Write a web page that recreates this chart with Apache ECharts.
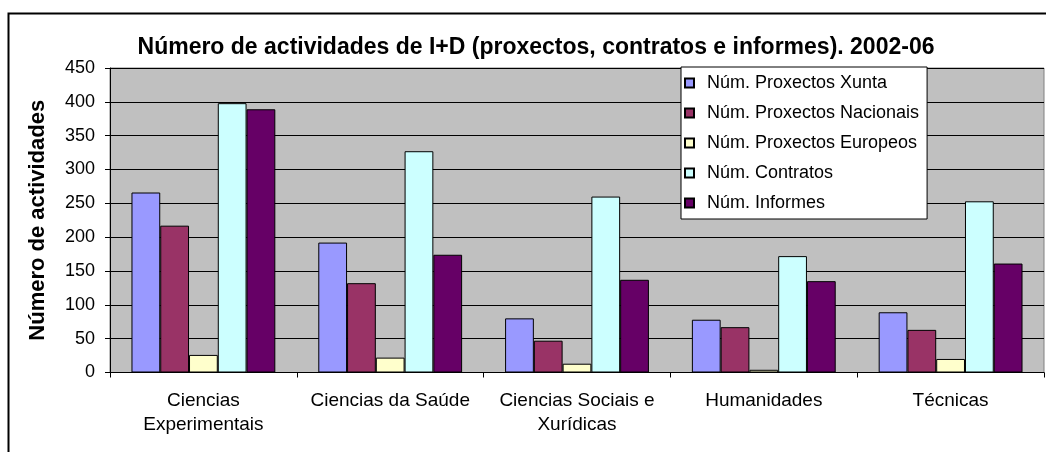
<!DOCTYPE html>
<html>
<head>
<meta charset="utf-8">
<script src="https://cdn.jsdelivr.net/npm/echarts@6/dist/echarts.min.js"></script>
<style>
  html, body { margin: 0; padding: 0; background: #fff; }
  #chart { width: 1046px; height: 452px; }
</style>
</head>
<body>
<div id="chart"></div>
<script>
var categorias = ['Ciencias\nExperimentais', 'Ciencias da Saúde', 'Ciencias Sociais e\nXurídicas', 'Humanidades', 'Técnicas'];
var xunta = [266, 192, 80, 78, 89];
var nacionais = [217, 132, 47, 67, 63];
var europeos = [26, 22, 13, 4, 20];
var contratos = [398, 327, 260, 172, 253];
var informes = [389, 174, 137, 135, 161];
var ticksY = [0, 450, 50]; // min, max, intervalo

var fonte = '"Liberation Sans", Arial, sans-serif';

var myChart = echarts.init(document.getElementById('chart'));

function serie(nome, datos, cor) {
    return {
        name: nome,
        type: 'bar',
        data: datos,
        barGap: '0%',
        barCategoryGap: '23%',
        itemStyle: { color: cor, borderColor: '#000', borderWidth: 1 },
        emphasis: { disabled: true }
    };
}

var option = {
    animation: false,
    textStyle: { fontFamily: fonte },
    title: {
        text: 'Número de actividades de I+D (proxectos, contratos e informes). 2002-06',
        left: 531,
        textAlign: 'center',
        top: 31,
        textStyle: { fontFamily: fonte, fontWeight: 'bold', fontSize: 23, color: '#000' }
    },
    legend: {
        orient: 'vertical',
        left: 681,
        top: 67,
        backgroundColor: '#fff',
        borderColor: '#000',
        borderWidth: 1,
        borderRadius: 0,
        padding: [6, 8, 6, 3],
        itemWidth: 9,
        itemHeight: 9,
        itemGap: 10,
        icon: 'rect',
        textStyle: { fontFamily: fonte, fontSize: 18, color: '#000', lineHeight: 20, padding: [0, 0, 0, 8] }
    },
    grid: {
        left: 110,
        right: 2,
        top: 68,
        bottom: 79.5,
        show: true,
        backgroundColor: '#C0C0C0',
        borderColor: '#808080',
        borderWidth: 1
    },
    xAxis: {
        type: 'category',
        data: categorias,
        axisLine: { lineStyle: { color: '#000', width: 1 } },
        axisTick: { show: true, length: 5, lineStyle: { color: '#000' } },
        axisLabel: { interval: 0, color: '#000', fontSize: 19, lineHeight: 24, margin: 16, fontFamily: fonte }
    },
    yAxis: {
        type: 'value',
        min: ticksY[0],
        max: ticksY[1],
        interval: ticksY[2],
        name: 'Número de actividades',
        nameLocation: 'middle',
        nameGap: 61,
        nameTextStyle: { fontFamily: fonte, fontWeight: 'bold', fontSize: 22, color: '#000' },
        axisLine: { show: true, lineStyle: { color: '#000', width: 1 } },
        axisTick: { show: true, length: 5, lineStyle: { color: '#000' } },
        axisLabel: { color: '#000', fontSize: 18, margin: 15, fontFamily: fonte },
        splitLine: { lineStyle: { color: '#000', width: 1 } }
    },
    graphic: [{
        type: 'rect',
        shape: { x: 8.5, y: 13.5, width: 1100, height: 500 },
        style: { fill: 'none', stroke: '#000', lineWidth: 2 },
        z: 100
    }],
    series: [
        serie('Núm. Proxectos Xunta', xunta, '#9999FF'),
        serie('Núm. Proxectos Nacionais', nacionais, '#993366'),
        serie('Núm. Proxectos Europeos', europeos, '#FFFFCC'),
        serie('Núm. Contratos', contratos, '#CCFFFF'),
        serie('Núm. Informes', informes, '#660066')
    ]
};

myChart.setOption(option);
</script>
</body>
</html>
